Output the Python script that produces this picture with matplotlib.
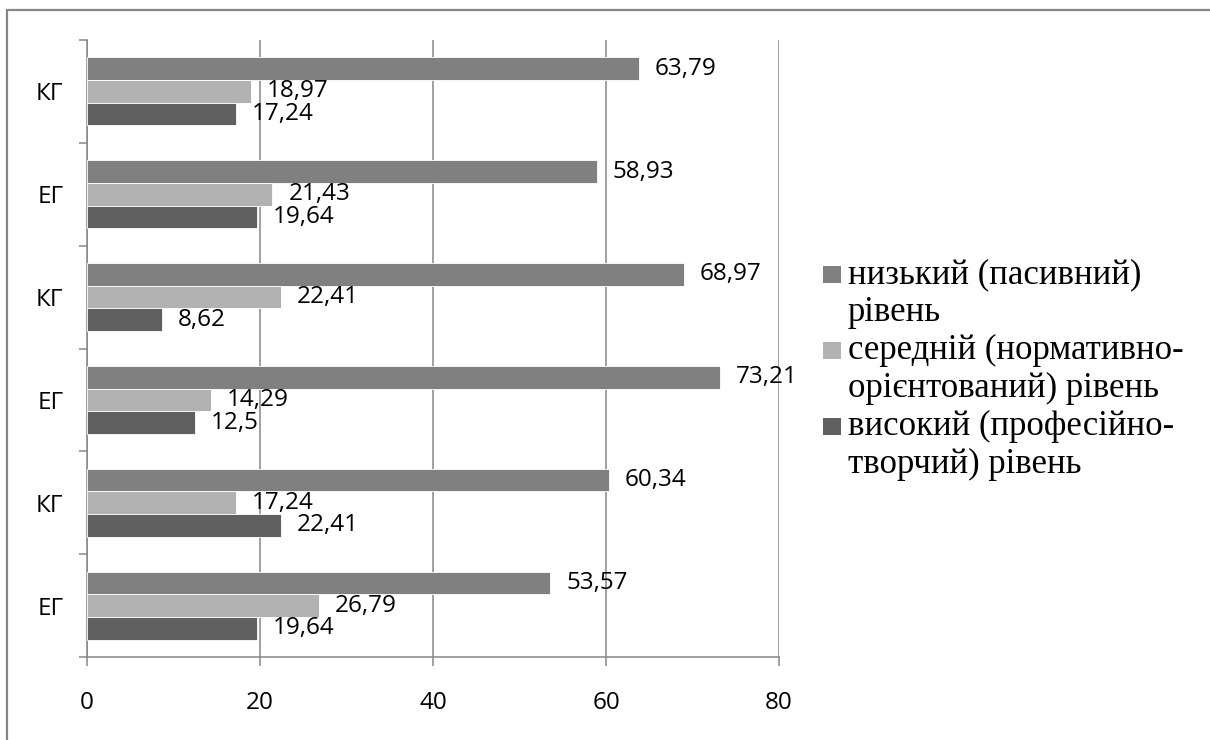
import matplotlib.pyplot as plt
import numpy as np
from matplotlib.patches import Rectangle
from matplotlib.ticker import MultipleLocator, FixedLocator

groups = ['ЕГ', 'КГ', 'ЕГ', 'КГ', 'ЕГ', 'КГ']
low = [53.57, 60.34, 73.21, 68.97, 58.93, 63.79]
medium = [26.79, 17.24, 14.29, 22.41, 21.43, 18.97]
high = [19.64, 22.41, 12.5, 8.62, 19.64, 17.24]

legend_lines = [
    ['низький (пасивний)', 'рівень'],
    ['середній (нормативно-', 'орієнтований) рівень'],
    ['високий (професійно-', 'творчий) рівень'],
]
colors = ['#808080', '#b2b2b2', '#606060']

W, H = 1210, 740
fig = plt.figure(figsize=(W / 100, H / 100), dpi=100, facecolor='white')
ax = fig.add_axes([87 / W, 1 - 657 / H, (779 - 87) / W, (657 - 40) / H])

grey = '#868686'
fs = 17.5
y = np.arange(len(groups))
h = 0.22
series = [low, medium, high]
offsets = [h, 0, -h]
for vals, off, c in zip(series, offsets, colors):
    bars = ax.barh(y + off, vals, height=h, color=c, edgecolor='white', linewidth=0.6, zorder=3)
    ax.bar_label(bars, labels=[f'{v:g}'.replace('.', ',') for v in vals],
                 padding=11.5, fontsize=fs, family='Open Sans', color='black')

ax.set_xlim(0, 80)
ax.set_ylim(-0.5, len(groups) - 0.5)
ax.xaxis.set_major_locator(MultipleLocator(20))
ax.set_yticks(y)
ax.set_yticklabels(groups)
ax.yaxis.set_minor_locator(FixedLocator(np.arange(-0.5, len(groups), 1)))

ax.grid(axis='x', color=grey, linewidth=1.1, zorder=0)
for s in ['top', 'right']:
    ax.spines[s].set_visible(False)
for s in ['left', 'bottom']:
    ax.spines[s].set_color(grey)
    ax.spines[s].set_linewidth(1.1)

ax.tick_params(axis='x', length=6.5, width=1.1, color=grey, pad=18, labelsize=fs)
ax.tick_params(axis='y', which='major', length=0, pad=17, labelsize=fs)
ax.tick_params(axis='y', which='minor', length=6, width=1.1, color=grey)
for lab in ax.get_xticklabels() + ax.get_yticklabels():
    lab.set_family('Open Sans')

# legend drawn by hand so each square sits beside the first line of its entry
baselines = [283, 321, 359, 397, 435, 473]
for i, (lines, c) in enumerate(zip(legend_lines, colors)):
    b1 = baselines[2 * i]
    fig.patches.append(Rectangle((823 / W, 1 - b1 / H), 18 / W, 17 / H,
                                 transform=fig.transFigure, facecolor=c, edgecolor='none'))
    for j, line in enumerate(lines):
        fig.text(848 / W, 1 - baselines[2 * i + j] / H, line, fontsize=25,
                 family=['Liberation Serif', 'DejaVu Serif'],
                 va='baseline', ha='left', color='black')

# outer frame
fig.patches.append(Rectangle((7 / W, -0.1), 1.2, 1.1 - 10 / H, transform=fig.transFigure,
                             facecolor='none', edgecolor=grey, linewidth=1.6))

fig.savefig('out.png', dpi=100, facecolor='white')
